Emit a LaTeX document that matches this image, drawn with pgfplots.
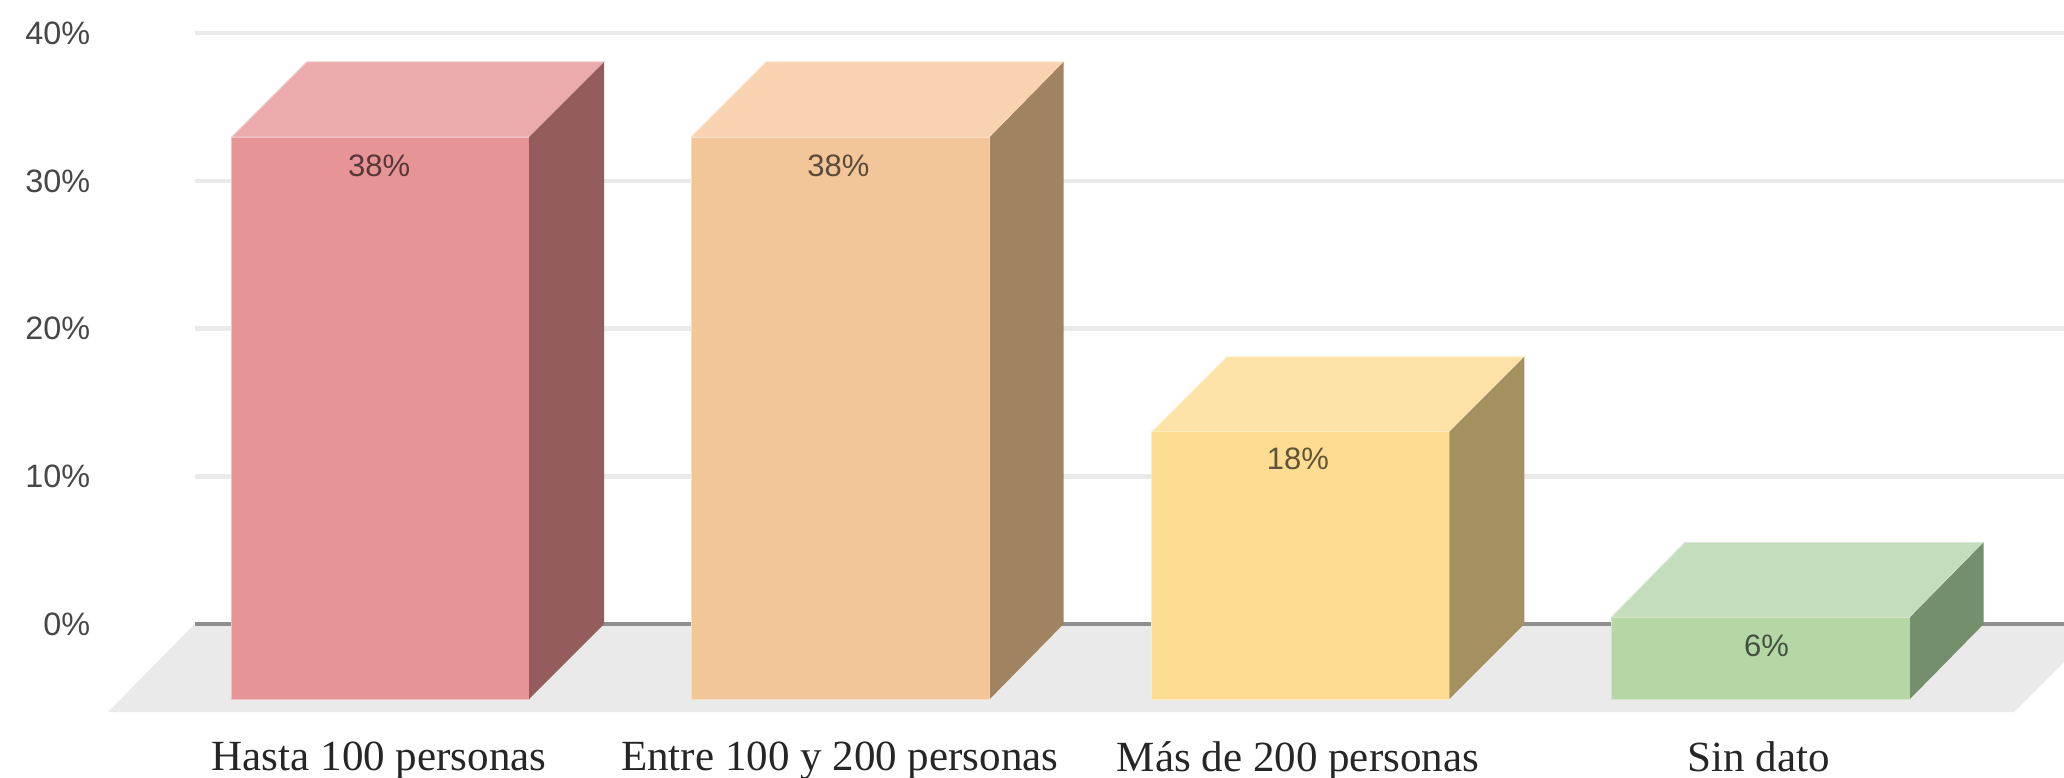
\documentclass[border=0pt]{standalone}
\usepackage{fontspec}
\setmainfont{Liberation Sans}
\newfontfamily\serifcat{Liberation Serif}
\usepackage{pgfplots}
\pgfplotsset{compat=1.18}

\definecolor{gridc}{HTML}{EAEAEA}
\definecolor{floorc}{HTML}{EAEAEA}
\definecolor{basec}{HTML}{8F8F8F}
\definecolor{redf}{HTML}{E79497}
\definecolor{redt}{HTML}{EBAAAB}
\definecolor{reds}{HTML}{945C5C}
\definecolor{oraf}{HTML}{F3C69A}
\definecolor{orat}{HTML}{F9D2AF}
\definecolor{oras}{HTML}{A18362}
\definecolor{yelf}{HTML}{FEDD92}
\definecolor{yelt}{HTML}{FEE3A8}
\definecolor{yels}{HTML}{A59160}
\definecolor{grnf}{HTML}{B5D6A5}
\definecolor{grnt}{HTML}{C4DDBC}
\definecolor{grns}{HTML}{738F6C}

\begin{document}
\begin{tikzpicture}
\begin{axis}[
scale only axis,
width=15.68cm, height=5.91cm,
xmin=0, xmax=1568,
ymin=-10.428, ymax=42.246,
axis line style={draw=none},
major tick style={draw=none},
xtick={288,638,986,1336},
xticklabels={Hasta 100 personas,Entre 100 y 200 personas,Más de 200 personas,Sin dato},
xticklabel style={font=\serifcat\fontsize{9.3}{10}\selectfont, text=black!85, anchor=north, inner sep=0pt, text depth=0pt, yshift=0.28cm},
ytick={0,10,20,30,40},
yticklabels={0\%,10\%,20\%,30\%,40\%},
yticklabel style={font=\fontsize{7}{8}\selectfont, text=black!72, anchor=east, xshift=0.81cm},
]
% grid lines and floor
\addplot[gridc, line width=1pt] coordinates {(148,10) (1568,10)};
\addplot[gridc, line width=1pt] coordinates {(148,20) (1568,20)};
\addplot[gridc, line width=1pt] coordinates {(148,30) (1568,30)};
\addplot[gridc, line width=1pt] coordinates {(148,40) (1568,40)};
\addplot[fill=floorc, draw=none] coordinates {(82,-5.97) (1530,-5.97) (1597,0) (148,0)} --cycle;
\addplot[basec, line width=0.85pt] coordinates {(148,0) (1568,0)};

% Hasta 100 personas, 38
\addplot[fill=redt, draw=redt!60!white, line width=0.2pt] coordinates {(176,32.97) (402,32.97) (459,38.05) (233,38.05)} --cycle;
\addplot[fill=redf, draw=redf!60!white, line width=0.2pt] coordinates {(176,-5.08) (402,-5.08) (402,32.97) (176,32.97)} --cycle;
\addplot[fill=reds, draw=none] coordinates {(402,-5.08) (459,0) (459,38.05) (402,32.97)} --cycle;

% Entre 100 y 200 personas, 38
\addplot[fill=orat, draw=orat!60!white, line width=0.2pt] coordinates {(525,32.97) (752,32.97) (808,38.05) (582,38.05)} --cycle;
\addplot[fill=oraf, draw=oraf!60!white, line width=0.2pt] coordinates {(525,-5.08) (752,-5.08) (752,32.97) (525,32.97)} --cycle;
\addplot[fill=oras, draw=none] coordinates {(752,-5.08) (808,0) (808,38.05) (752,32.97)} --cycle;

% Mas de 200 personas, 18
\addplot[fill=yelt, draw=yelt!60!white, line width=0.2pt] coordinates {(875,13.01) (1101,13.01) (1158,18.09) (932,18.09)} --cycle;
\addplot[fill=yelf, draw=yelf!60!white, line width=0.2pt] coordinates {(875,-5.08) (1101,-5.08) (1101,13.01) (875,13.01)} --cycle;
\addplot[fill=yels, draw=none] coordinates {(1101,-5.08) (1158,0) (1158,18.09) (1101,13.01)} --cycle;

% Sin dato, 6 (drawn a little lower than 6)
\addplot[fill=grnt, draw=grnt!60!white, line width=0.2pt] coordinates {(1224,0.45) (1451,0.45) (1507,5.53) (1280,5.53)} --cycle;
\addplot[fill=grnf, draw=grnf!60!white, line width=0.2pt] coordinates {(1224,-5.08) (1451,-5.08) (1451,0.45) (1224,0.45)} --cycle;
\addplot[fill=grns, draw=none] coordinates {(1451,-5.08) (1507,0) (1507,5.53) (1451,0.45)} --cycle;

% value labels
\addplot[draw=none, mark=none, point meta=explicit symbolic,
  nodes near coords, nodes near coords style={anchor=center, font=\fontsize{6.7}{8}\selectfont, text=black, opacity=0.62}]
  coordinates {(288,31.0)[38\%] (637,31.0)[38\%] (986,11.2)[18\%] (1342,-1.5)[6\%]};
\end{axis}
\end{tikzpicture}
\end{document}
